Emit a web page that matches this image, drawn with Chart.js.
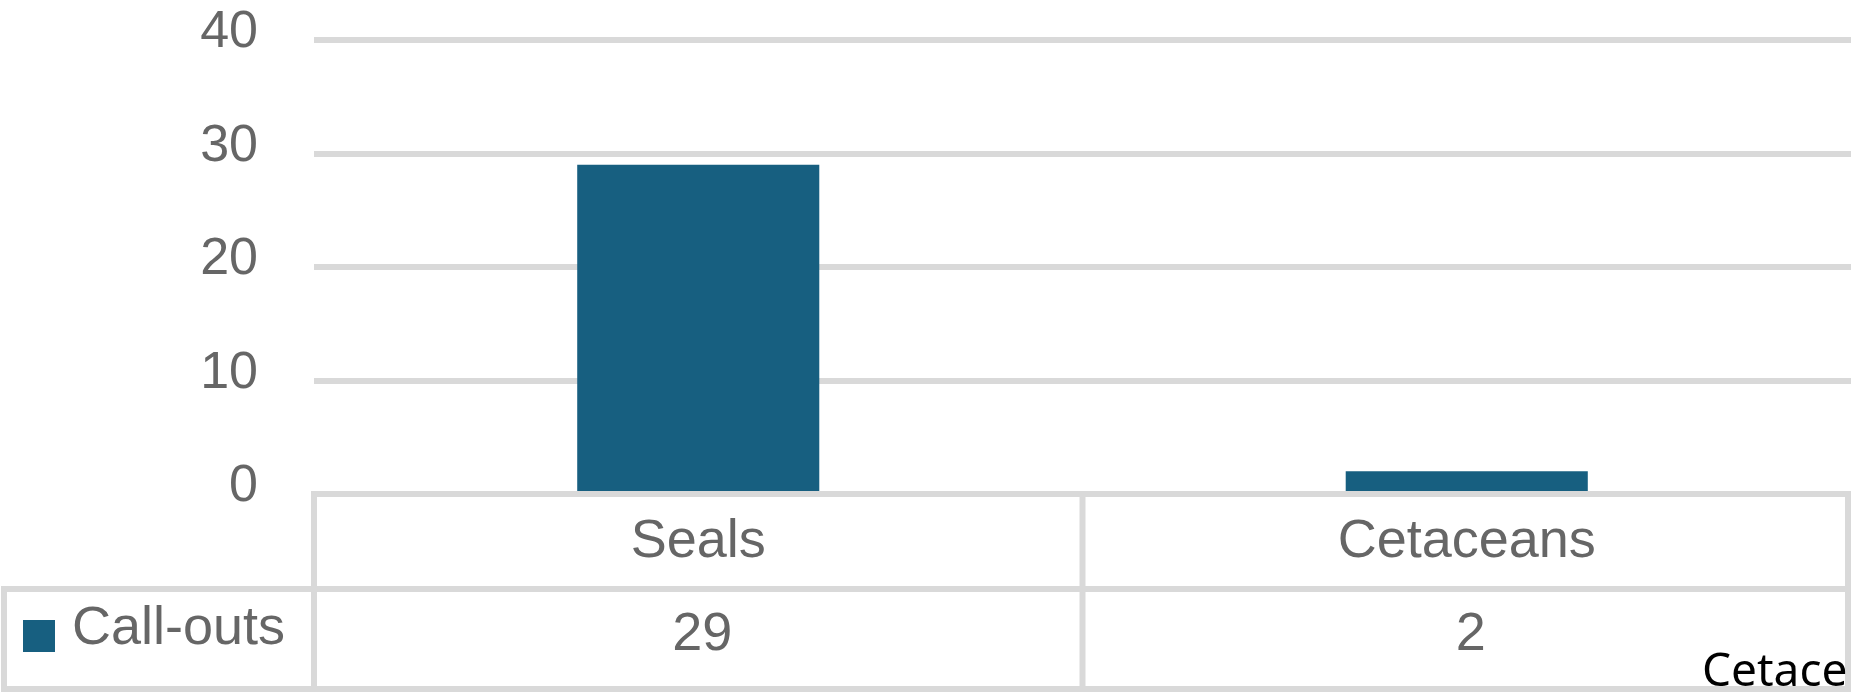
<!DOCTYPE html>
<html>
<head>
<meta charset="utf-8">
<script src="https://cdn.jsdelivr.net/npm/chart.js@4/dist/chart.umd.min.js"></script>
<style>
  html, body { margin: 0; padding: 0; background: #fff; }
  #chart { display: block; }
</style>
</head>
<body>
<canvas id="chart" width="1851" height="692"></canvas>
<script>
// Chart data
const categories = ["Seals", "Cetaceans"];
const seriesName = "Call-outs";
const callOuts = [29, 2];
const yTicks = [0, 10, 20, 30, 40];

const barColor = "#175f80";
const lineColor = "#d9d9d9";
const textColor = "#666666";
const fontFamily = "'Liberation Sans', Arial, sans-serif";

// Draws the data table under the plot (Excel style)
const dataTablePlugin = {
  id: "dataTable",
  afterDatasetsDraw(chart) {
    const ctx = chart.ctx;
    const area = chart.chartArea;
    const xScale = chart.scales.x;
    const top = area.bottom;
    const rowLine = top + 95;
    const bottom = top + 195;

    ctx.save();
    ctx.strokeStyle = lineColor;
    ctx.lineWidth = 6;
    ctx.beginPath();
    // horizontal lines
    ctx.moveTo(area.left - 3, top);
    ctx.lineTo(area.right, top);
    ctx.moveTo(1, rowLine);
    ctx.lineTo(area.right, rowLine);
    ctx.moveTo(1, bottom);
    ctx.lineTo(area.right, bottom);
    // vertical lines
    ctx.moveTo(area.left, top);
    ctx.lineTo(area.left, bottom);
    for (let i = 1; i < categories.length; i++) {
      const xb = (xScale.getPixelForValue(i - 1) + xScale.getPixelForValue(i)) / 2;
      ctx.moveTo(xb, top);
      ctx.lineTo(xb, bottom);
    }
    ctx.moveTo(area.right - 3, top);
    ctx.lineTo(area.right - 3, bottom);
    ctx.moveTo(4, rowLine);
    ctx.lineTo(4, bottom);
    ctx.stroke();

    // legend key + series name
    ctx.fillStyle = barColor;
    ctx.fillRect(23, rowLine + 31, 32, 32);
    ctx.fillStyle = textColor;
    ctx.font = "54px " + fontFamily;
    ctx.textBaseline = "middle";
    ctx.textAlign = "left";
    ctx.fillText(seriesName, 72, rowLine + 40);

    // values row
    ctx.textAlign = "center";
    callOuts.forEach((v, i) => {
      ctx.fillText(String(v), xScale.getPixelForValue(i) + 4, rowLine + 46);
    });

    // stray label clipped at the right edge
    ctx.beginPath();
    ctx.rect(0, 0, area.right - 4, chart.height);
    ctx.clip();
    ctx.fillStyle = "#000000";
    ctx.font = "46px 'Noto Sans', Arial, sans-serif";
    ctx.textAlign = "left";
    ctx.textBaseline = "alphabetic";
    ctx.fillText(categories[1], 1702, 686);
    ctx.restore();
  }
};

const ctx = document.getElementById("chart").getContext("2d");
const chart = new Chart(ctx, {
  type: "bar",
  data: {
    labels: categories,
    datasets: [
      {
        label: seriesName,
        data: callOuts,
        backgroundColor: barColor,
        borderWidth: 0,
        barPercentage: 0.315,
        categoryPercentage: 1,
      },
    ],
  },
  options: {
    responsive: false,
    animation: false,
    devicePixelRatio: 1,
    layout: { padding: { top: 40, right: 0, bottom: 0, left: 0 } },
    plugins: {
      legend: { display: false },
      tooltip: { enabled: false },
    },
    scales: {
      x: {
        grid: { display: false },
        border: { display: false },
        ticks: {
          color: textColor,
          font: { family: fontFamily, size: 54 },
          padding: 8,
          maxRotation: 0,
        },
        afterFit(scale) {
          scale.height = 198;
          scale.paddingLeft = 0;
          scale.paddingRight = 0;
        },
      },
      y: {
        min: yTicks[0],
        max: yTicks[yTicks.length - 1],
        afterBuildTicks(scale) {
          scale.ticks = yTicks.map((v) => ({ value: v }));
        },
        grid: { color: lineColor, lineWidth: 6, drawTicks: false },
        border: { display: false },
        ticks: {
          color: textColor,
          font: { family: fontFamily, size: 52 },
          padding: 56,
          labelOffset: -7,
        },
        afterFit(scale) {
          scale.width = 314;
          scale.paddingTop = 0;
          scale.paddingBottom = 0;
        },
      },
    },
  },
  plugins: [dataTablePlugin],
});
</script>
</body>
</html>
